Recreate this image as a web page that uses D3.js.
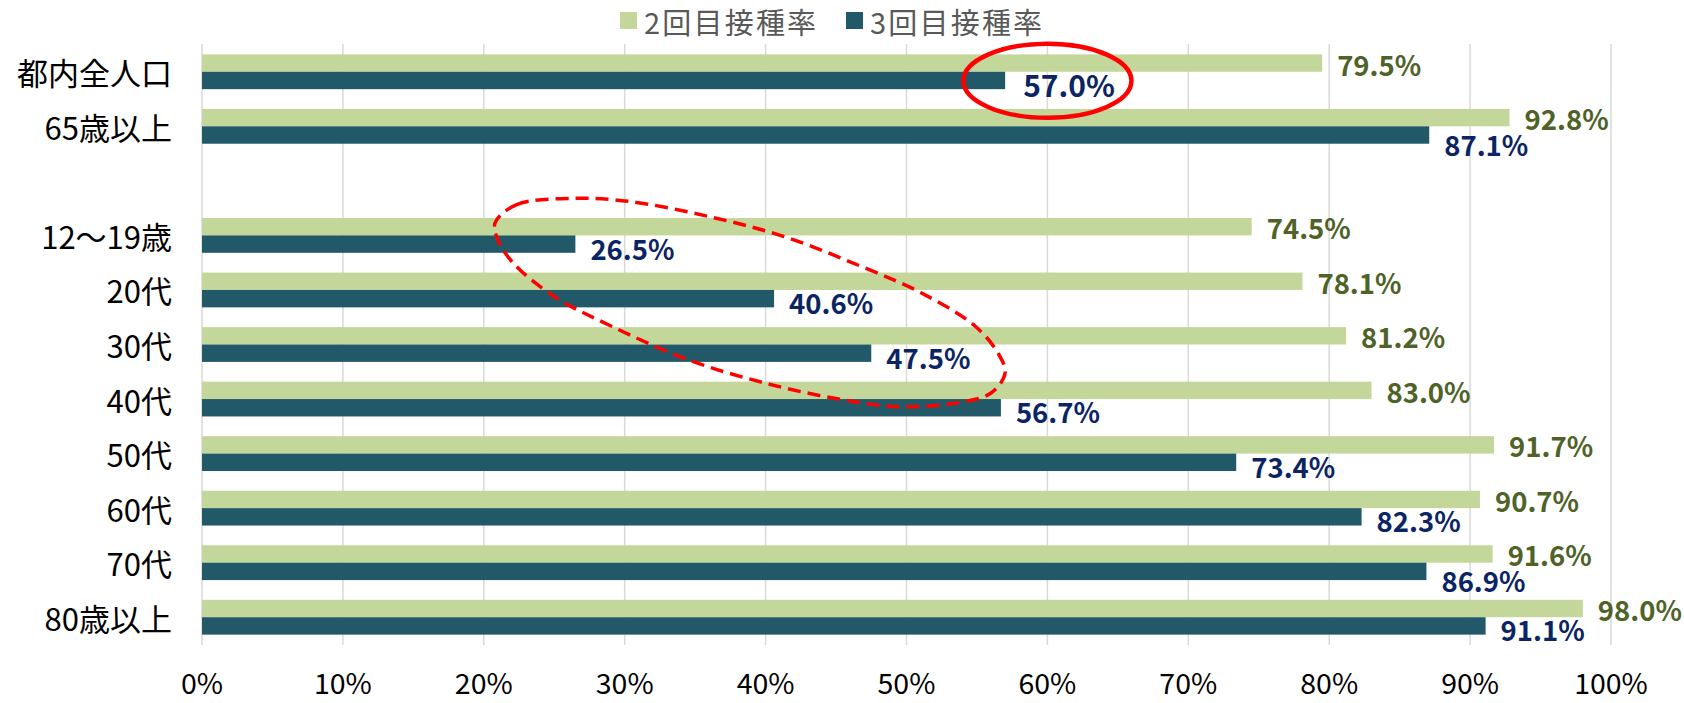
<!DOCTYPE html>
<html>
<head>
<meta charset="utf-8">
<script src="https://cdn.jsdelivr.net/npm/d3@7"></script>
<style>
  body { margin: 0; background: #fff; }
  svg text { font-family: "Noto Sans CJK JP", sans-serif; }
</style>
</head>
<body>
<div id="chart"></div>
<script>
// categories top to bottom, "" is the empty spacer row
const categories = ["都内全人口", "65歳以上", "", "12〜19歳", "20代", "30代", "40代", "50代", "60代", "70代", "80歳以上"];
const dose2 = [79.5, 92.8, null, 74.5, 78.1, 81.2, 83.0, 91.7, 90.7, 91.6, 98.0];
const dose3 = [57.0, 87.1, null, 26.5, 40.6, 47.5, 56.7, 73.4, 82.3, 86.9, 91.1];
const seriesNames = ["2回目接種率", "3回目接種率"];
const tickValues = [0, 10, 20, 30, 40, 50, 60, 70, 80, 90, 100];

// hand drawn dashed outline: [percent, row position (0 = first row centre)]
const dashedOutline = [
    [20.8, 2.77], [22.3, 2.44], [26.4, 2.32], [30.4, 2.38], [35.9, 2.65], [41.3, 3.02],
    [46.8, 3.57], [51.1, 4.06], [54.9, 4.67], [56.5, 5.16], [57.0, 5.52], [56.0, 5.89],
    [53.6, 6.07], [49.5, 6.14], [45.4, 6.01], [40.0, 5.71], [34.5, 5.28], [29.1, 4.67],
    [25.0, 4.12], [22.1, 3.51], [21.0, 3.08]
];

const colors = ["#c4d79b", "#215968"];
const labelColors = ["#4f6228", "#0b2463"];

const W = 1684, H = 703;
const x0 = 202, x1 = 1611;

const svg = d3.select("#chart").append("svg")
    .attr("width", W)
    .attr("height", H);

const xScale = d3.scaleLinear().domain([0, 100]).range([x0, x1]);

const yScale = d3.scaleBand()
    .domain(categories)
    .range([44.5, 644.5])
    .paddingInner(0.362)
    .paddingOuter(0.181);

const subScale = d3.scaleBand()
    .domain([0, 1])
    .range([0, yScale.bandwidth()]);

const rowY = r => yScale(categories[0]) + yScale.bandwidth() / 2 + r * yScale.step();

// gridlines
svg.append("g")
    .selectAll("line")
    .data(tickValues)
    .enter().append("line")
    .attr("x1", d => xScale(d))
    .attr("x2", d => xScale(d))
    .attr("y1", 44)
    .attr("y2", 645)
    .attr("stroke", "#d9d9d9")
    .attr("stroke-width", 1.5);

// tick labels
svg.append("g")
    .selectAll("text")
    .data(tickValues)
    .enter().append("text")
    .attr("x", d => xScale(d))
    .attr("y", 694)
    .attr("text-anchor", "middle")
    .attr("font-size", 28.5)
    .attr("fill", "#000")
    .text(d => d + "%");

// category labels
svg.append("g")
    .selectAll("text")
    .data(categories.filter(d => d !== ""))
    .enter().append("text")
    .attr("x", 172)
    .attr("y", d => yScale(d) + yScale.bandwidth() / 2)
    .attr("text-anchor", "end")
    .attr("dominant-baseline", "central")
    .attr("font-size", 31)
    .attr("fill", "#000")
    .text(d => d);

const rows = categories.map((c, i) => ({ cat: c, vals: [dose2[i], dose3[i]] }))
    .filter(d => d.vals[0] !== null);

const groups = svg.append("g")
    .selectAll("g")
    .data(rows)
    .enter().append("g")
    .attr("transform", d => "translate(0," + yScale(d.cat) + ")");

groups.selectAll("rect")
    .data(d => d.vals.map((v, k) => ({ v, k })))
    .enter().append("rect")
    .attr("x", xScale(0))
    .attr("y", d => subScale(d.k))
    .attr("width", d => xScale(d.v) - xScale(0))
    .attr("height", subScale.bandwidth())
    .attr("fill", d => colors[d.k]);

// value labels
groups.append("text")
    .attr("x", d => xScale(d.vals[0]) + 15)
    .attr("y", subScale(0) + subScale.bandwidth() / 2 + 0.5)
    .attr("dominant-baseline", "central")
    .attr("font-size", 27.5)
    .attr("font-weight", "bold")
    .attr("fill", labelColors[0])
    .text(d => d.vals[0].toFixed(1) + "%");

groups.append("text")
    .attr("x", d => xScale(d.vals[1]) + (d.cat === categories[0] ? 18 : 15))
    .attr("dominant-baseline", "central")
    .attr("font-size", d => d.cat === categories[0] ? 30 : 27.5)
    .attr("font-weight", "bold")
    .attr("fill", labelColors[1])
    .text(d => d.vals[1].toFixed(1) + "%")
    .attr("y", function(d) {
        // push down when it would run into the 2nd-dose label of the same row
        const w = this.getComputedTextLength();
        const lightX = xScale(d.vals[0]) + 15;
        const ownX = xScale(d.vals[1]) + 15;
        const base = subScale(1) + subScale.bandwidth() / 2 + 3.5;
        return ownX + w > lightX - 6 ? subScale(0) + subScale.bandwidth() / 2 + 26 : base;
    });

// legend
const legend = svg.append("g")
    .selectAll("g")
    .data(seriesNames)
    .enter().append("g")
    .attr("transform", (d, i) => "translate(" + (i === 0 ? 620 : 846) + ",0)");

legend.append("rect")
    .attr("x", 0)
    .attr("y", 12)
    .attr("width", 17)
    .attr("height", 17)
    .attr("fill", (d, i) => colors[i]);

legend.append("text")
    .attr("x", 24)
    .attr("y", 34)
    .attr("font-size", 29)
    .attr("letter-spacing", 2.2)
    .attr("fill", "#595959")
    .text(d => d);

// annotations
svg.append("ellipse")
    .attr("cx", xScale(60))
    .attr("cy", rowY(0.165))
    .attr("rx", 84)
    .attr("ry", 37)
    .attr("fill", "none")
    .attr("stroke", "#ff0000")
    .attr("stroke-width", 4.5);

const outline = d3.line()
    .x(d => xScale(d[0]))
    .y(d => rowY(d[1]))
    .curve(d3.curveCatmullRomClosed);

svg.append("path")
    .attr("d", outline(dashedOutline))
    .attr("fill", "none")
    .attr("stroke", "#ff0000")
    .attr("stroke-width", 3.5)
    .attr("stroke-dasharray", "13,7");
</script>
</body>
</html>
